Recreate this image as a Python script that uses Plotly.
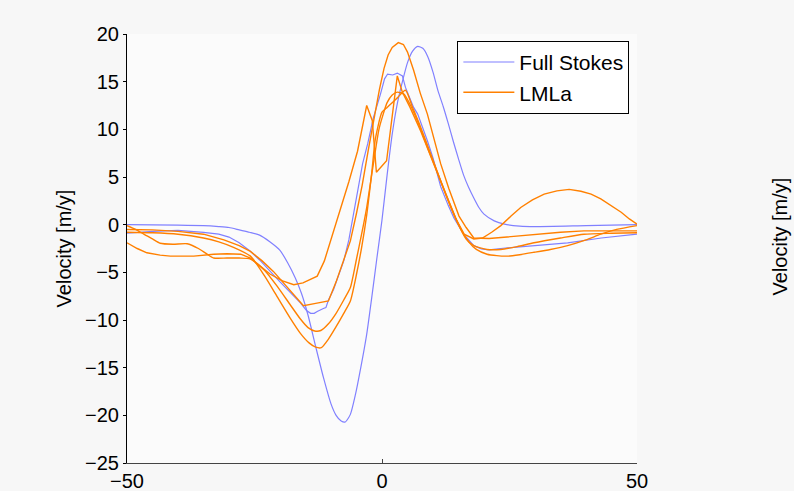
import plotly.graph_objects as go

# Full Stokes (blue) curves
fs1_x = [-50, -40, -35, -32, -30, -28, -26, -24, -22, -20, -18.5, -17, -15.8, -14.5, -13, -11.5, -10, -9, -8, -7.2, -6.2, -5.2, -4.2, -3, -2, -1, 0, 1, 2, 3, 4, 5, 6, 7, 8, 9, 10, 11, 12, 13, 14, 15, 16, 17, 18, 19, 20, 22, 24, 27, 30, 40, 50]
fs1_y = [0.0, -0.05, -0.1, -0.2, -0.3, -0.55, -0.8, -1.1, -1.8, -2.7, -4.0, -5.6, -7.2, -9.5, -12.8, -16.0, -18.8, -20.0, -20.6, -20.7, -19.9, -17.8, -15.1, -11.5, -7.6, -3.5, 0.5, 5.2, 9.5, 12.7, 15.0, 17.0, 18.2, 18.7, 18.5, 17.6, 16.0, 14.0, 12.4, 10.6, 8.7, 6.9, 5.2, 3.9, 2.8, 1.8, 1.1, 0.4, 0.05, -0.15, -0.2, -0.1, 0.0]

fs2_x = [-50, -45, -40, -35, -32, -30, -28, -26, -24, -22, -20, -18, -16, -14.8, -14, -13.3, -12.7, -11.5, -11, -10.5, -9.5, -8.7, -7.5, -6.5, -5.5, -4.5, -3.8, -2.8, -1.7, -0.3, 0.5, 1.1, 2.1, 3.0, 4.0, 4.6, 6.2, 7.0, 8.0, 8.9, 10, 11.5, 13, 14.1, 16, 18, 19.5, 21, 23.3, 29.2, 36.4, 43, 50]
fs2_y = [-0.9, -0.7, -0.6, -0.8, -1.0, -1.3, -1.9, -2.7, -3.7, -4.9, -6.0, -7.1, -8.2, -9.0, -9.3, -9.3, -9.1, -8.8, -8.7, -7.9, -6.8, -5.6, -3.8, -1.6, 1.5, 4.6, 6.4, 8.5, 11.2, 13.7, 15.3, 15.8, 15.7, 15.9, 15.6, 14.4, 12.3, 11.6, 10.2, 8.8, 7.0, 4.0, 2.0, 0.7, -1.0, -2.2, -2.55, -2.65, -2.5, -2.2, -1.9, -1.4, -1.0]

# LMLa (orange) curves
lm1_x = [-50, -48, -46.1, -43.5, -41.5, -36.9, -33, -30.4, -27.7, -25.8, -24, -21.9, -19.5, -17.3, -15.5, -12.7, -11.3, -10.1, -8.2, -6.5, -4.8, -3.0, -1.9, -1.1, 0.9, 1.8, 3.0, 4.0, 5.5, 7.6, 10.0, 12.5, 14.5, 16.1, 18.0, 19.7, 21.5, 23.3, 25.3, 27.2, 29.5, 31.8, 34.3, 36.7, 39.0, 41, 42.9, 45, 46.9, 48.5, 50]
lm1_y = [-1.9, -2.5, -2.95, -3.2, -3.3, -3.3, -3.1, -3.05, -3.1, -3.5, -4.3, -5.2, -5.9, -6.3, -6.1, -5.4, -3.8, -1.7, 1.4, 4.5, 7.7, 12.5, 10.9, 5.5, 6.7, 10.4, 15.6, 13.9, 12.3, 9.8, 6.5, 3.2, 0.6, -1.0, -1.5, -1.4, -0.8, -0.1, 0.9, 1.8, 2.6, 3.2, 3.55, 3.7, 3.5, 3.2, 2.7, 2.0, 1.3, 0.6, 0.05]

lm2_x = [-50, -45, -40, -35, -31, -28, -25.8, -23.5, -21.3, -19, -17, -15.4, -13, -10.5, -9, -7.5, -6.2, -5, -3.9, -2.7, -1.6, -0.5, 0.4, 1.2, 2.0, 3.2, 4.2, 5.0, 6.2, 7.5, 8.9, 10.2, 11.5, 13.1, 15.1, 16.5, 18.0, 21.0, 25, 29.8, 35, 39.6, 45, 50]
lm2_y = [-0.5, -0.55, -0.7, -1.0, -1.6, -2.2, -2.8, -3.8, -4.9, -6.3, -7.6, -8.5, -8.25, -8.0, -6.0, -3.8, -1.7, 1.2, 4.1, 7.8, 11.1, 14.2, 16.4, 17.8, 18.6, 19.1, 18.9, 18.1, 16.2, 13.8, 11.6, 9.0, 6.4, 3.8, 0.9, -0.3, -1.4, -1.45, -1.25, -1.0, -0.8, -0.65, -0.65, -0.65]

lm3_x = [-50, -48.3, -46.7, -45, -43.5, -41, -38.2, -36, -34.3, -33, -30.4, -28, -25.8, -23, -20.5, -18, -16, -14.5, -13.2, -12, -10.5, -9, -7.5, -6.2, -5, -4, -3, -1.8, -0.6, 0.3, 1.0, 2.0, 3.0, 4.3, 5.5, 7, 9, 11, 13, 15, 16.5, 18, 20.6, 23.3, 26.5, 29.8, 35, 39.6, 45, 50]
lm3_y = [-0.1, -0.5, -1.0, -1.5, -1.95, -2.05, -2.0, -2.5, -3.1, -3.5, -3.5, -3.5, -3.6, -4.8, -6.5, -8.4, -9.9, -10.8, -11.15, -11.1, -10.4, -9.3, -7.9, -6.6, -3.6, -1.0, 1.8, 6.0, 10.0, 11.7, 12.8, 13.6, 13.9, 13.7, 12.6, 10.8, 8.0, 5.3, 2.6, 0.0, -1.5, -2.2, -2.6, -2.6, -2.3, -1.9, -1.4, -1.0, -0.9, -0.85]

lm4_x = [-50, -45, -40, -35, -32, -29, -25.8, -23, -20.5, -18, -16, -14.3, -13, -11.9, -10.5, -9, -7.5, -6.2, -5, -4, -3, -2, -1.3, 0.0, 1.0, 2.0, 3.0, 4.6, 6.0, 7.6, 9.5, 11.5, 13.5, 15.5, 17.0, 18.5, 20.6, 22.5, 24.6, 27, 29.8, 33, 36.4, 40, 42.9, 46, 50]
lm4_y = [-0.8, -0.85, -1.0, -1.4, -1.8, -2.4, -3.3, -5.4, -7.6, -9.8, -11.4, -12.4, -12.85, -12.9, -12.0, -10.7, -9.3, -8.0, -5.2, -2.4, 1.0, 5.5, 9.0, 11.8, 12.3, 12.8, 13.3, 14.1, 12.3, 10.2, 7.5, 4.6, 1.8, -0.5, -1.8, -2.6, -3.1, -3.25, -3.3, -3.15, -2.9, -2.6, -2.2, -1.6, -1.0, -0.5, -0.1]

blue = "#8080ff"
orange = "#ff8000"

fig = go.Figure()
blue_series = [(fs1_x, fs1_y, "spline"), (fs2_x, fs2_y, "linear")]
orange_series = [(lm1_x, lm1_y, "linear"), (lm2_x, lm2_y, "linear"),
                 (lm3_x, lm3_y, "spline"), (lm4_x, lm4_y, "spline")]
for i, (xs, ys, shp) in enumerate(blue_series):
    fig.add_trace(go.Scatter(x=xs, y=ys, mode="lines",
                             line=dict(color=blue, width=1.2, shape=shp, smoothing=0.6),
                             name="Full Stokes", showlegend=(i == 0)))
for i, (xs, ys, shp) in enumerate(orange_series):
    fig.add_trace(go.Scatter(x=xs, y=ys, mode="lines",
                             line=dict(color=orange, width=1.4, shape=shp, smoothing=0.6),
                             name="LMLa", showlegend=(i == 0)))

font_family = "Liberation Sans, Arial, Helvetica, sans-serif"
fig.update_layout(
    width=794, height=491,
    margin=dict(l=127, r=157, t=34, b=28),
    paper_bgcolor="#f7f7f7",
    plot_bgcolor="#fbfbfb",
    font=dict(family=font_family, size=20, color="#000000"),
    showlegend=True,
    legend=dict(x=0.985, y=0.984, xanchor="right", yanchor="top",
                bgcolor="#ffffff", bordercolor="#000000", borderwidth=1,
                font=dict(size=21), tracegroupgap=0, itemwidth=51),
    xaxis=dict(range=[-50, 50], tickvals=[-50, 0, 50], ticks="inside", ticklen=4,
               tickcolor="#444444", showline=True, linecolor="#444444", linewidth=1,
               showgrid=False, zeroline=False, tickfont=dict(size=20), automargin=False),
    yaxis=dict(range=[-25, 20], dtick=5, ticks="outside", ticklen=3,
               tickcolor="#000000", showline=True, linecolor="#000000", linewidth=1,
               showgrid=False, zeroline=False, tickfont=dict(size=20), automargin=False,
               title=dict(text="Velocity [m/y]", font=dict(size=20), standoff=8)),
    annotations=[dict(text="Velocity [m/y]", textangle=-90, xref="paper", yref="paper",
                      x=1.305, y=0.527, showarrow=False, font=dict(size=20))],
)

fig.write_html("out.html")
